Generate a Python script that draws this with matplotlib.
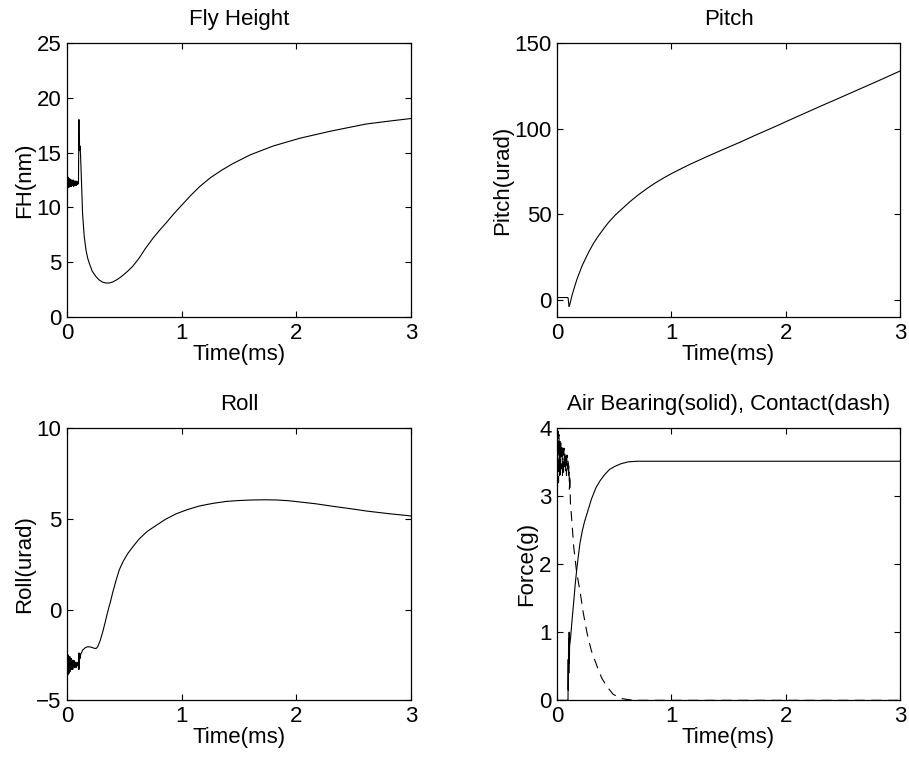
import numpy as np
import matplotlib
matplotlib.use('Agg')
import matplotlib.pyplot as plt

plt.rcParams['font.family'] = ['Liberation Sans', 'DejaVu Sans']
plt.rcParams['font.size'] = 16

# Fly height (nm): noisy start, spike at 0.1 ms, then slow recovery
fh_noise = [12.3, 11.7, 12.8, 11.8, 12.7, 11.8, 12.6, 11.9, 12.6, 11.9, 12.5, 12.0,
            12.5, 11.9, 12.5, 12.0, 12.4, 12.0, 12.5, 11.9, 12.4, 12.1, 12.4, 12.0,
            12.4, 12.1, 12.3, 12.0, 12.4, 12.1, 12.3, 12.1, 12.3, 12.2]
fh_t = [0.100, 0.104, 0.106, 0.108, 0.110, 0.113, 0.118, 0.122, 0.136, 0.15, 0.166, 0.18,
        0.195, 0.22, 0.253, 0.28, 0.31, 0.34, 0.37, 0.40, 0.44, 0.48, 0.53, 0.574,
        0.63, 0.68, 0.75, 0.81, 0.865, 0.93, 1.0, 1.08, 1.157, 1.25, 1.35, 1.448,
        1.6, 1.8, 2.03, 2.3, 2.61, 2.8, 3.0]
fh_v = [12.2, 18.0, 15.4, 16.6, 15.2, 15.6, 14.8, 13.7, 9.4, 7.4, 6.1, 5.4,
        4.9, 4.2, 3.7, 3.4, 3.2, 3.12, 3.12, 3.22, 3.45, 3.75, 4.2, 4.65,
        5.4, 6.2, 7.2, 7.95, 8.6, 9.4, 10.2, 11.1, 11.9, 12.7, 13.4, 14.0,
        14.8, 15.6, 16.3, 16.95, 17.6, 17.85, 18.1]

# Pitch (urad)
pitch_t = [0.0, 0.094, 0.097, 0.105, 0.11, 0.13, 0.15, 0.175, 0.219, 0.277, 0.32, 0.364,
           0.41, 0.452, 0.51, 0.569, 0.64, 0.714, 0.79, 0.86, 0.93, 1.006, 1.08, 1.152,
           1.3, 1.443, 1.6, 1.735, 1.9, 2.026, 2.17, 2.318, 2.46, 2.609, 2.8, 3.0]
pitch_v = [1.5, 1.5, 1.0, -3.7, -3.0, 2.5, 7.0, 12.3, 20.0, 28.0, 33.2, 37.6,
           41.8, 45.4, 49.6, 53.2, 57.5, 61.5, 65.2, 68.3, 71.1, 73.9, 76.4, 78.8,
           83.3, 87.5, 92.0, 96.1, 100.9, 104.7, 109.0, 113.4, 117.5, 121.9, 127.5, 133.5]

# Roll (urad)
roll_noise = [-3.7, -2.6, -3.6, -2.5, -3.5, -2.6, -3.5, -2.6, -3.4, -2.7, -3.3, -2.7,
              -3.3, -2.8, -3.3, -2.8, -3.2, -2.8, -3.2, -2.9, -3.1, -2.9, -3.2, -3.0,
              -3.1, -2.9, -3.1, -3.0, -3.1]
roll_t = [0.100, 0.102, 0.104, 0.106, 0.108, 0.110, 0.113, 0.118, 0.137, 0.16, 0.18, 0.21,
          0.24, 0.255, 0.268, 0.29, 0.312, 0.335, 0.355, 0.38, 0.40, 0.43, 0.457, 0.49,
          0.53, 0.58, 0.632, 0.7, 0.778, 0.86, 0.953, 1.05, 1.156, 1.27, 1.39, 1.5,
          1.62, 1.72, 1.826, 1.93, 2.03, 2.17, 2.32, 2.46, 2.613, 2.8, 3.0]
roll_v = [-3.3, -2.4, -3.3, -2.5, -3.1, -2.4, -2.7, -2.5, -2.23, -2.1, -2.05, -2.07,
          -2.14, -2.14, -2.05, -1.7, -1.23, -0.65, -0.13, 0.45, 0.97, 1.65, 2.2, 2.65,
          3.08, 3.5, 3.9, 4.3, 4.63, 4.97, 5.27, 5.5, 5.7, 5.84, 5.95, 6.0,
          6.03, 6.04, 6.03, 5.99, 5.92, 5.82, 5.68, 5.56, 5.42, 5.28, 5.15]

# Forces (g): air bearing solid, contact dashed
ab_t = [0.0, 0.094, 0.096, 0.098, 0.099, 0.101, 0.103, 0.106, 0.108, 0.11, 0.117, 0.13,
        0.146, 0.16, 0.175, 0.2, 0.22, 0.24, 0.262, 0.3, 0.34, 0.379, 0.42, 0.46,
        0.5, 0.554, 0.62, 0.7, 0.8, 1.0, 1.5, 2.0, 2.5, 3.0]
ab_v = [0.0, 0.0, 0.0, 0.6, 0.15, 0.9, 0.4, 1.0, 0.55, 0.8, 0.89, 1.15,
        1.45, 1.72, 1.96, 2.3, 2.48, 2.62, 2.74, 2.95, 3.12, 3.23, 3.32, 3.39,
        3.43, 3.47, 3.5, 3.51, 3.51, 3.51, 3.51, 3.51, 3.51, 3.51]
ct_noise = [4.0, 3.1, 3.95, 3.2, 3.9, 3.3, 3.8, 3.3, 3.8, 3.4, 3.75, 3.3, 3.7, 3.3,
            3.7, 3.4, 3.65, 3.35, 3.6, 3.3, 3.6, 3.4, 3.55, 3.3]
ct_t = [0.100, 0.105, 0.108, 0.112, 0.117, 0.131, 0.146, 0.17, 0.204, 0.23, 0.262, 0.3,
        0.35, 0.39, 0.437, 0.49, 0.554, 0.62, 0.7, 0.8, 1.0, 1.5, 2.0, 2.5, 3.0]
ct_v = [3.3, 3.45, 3.1, 3.3, 2.9, 2.6, 2.25, 1.9, 1.57, 1.28, 0.99, 0.73,
        0.5, 0.33, 0.2, 0.09, 0.03, 0.01, 0.0, 0.0, 0.0, 0.0, 0.0, 0.0, 0.0]


def style(ax, title, ylabel, ylim, yticks):
    ax.set_title(title, fontsize=16, pad=13)
    ax.set_xlabel('Time(ms)', labelpad=0)
    ax.set_ylabel(ylabel, labelpad=1)
    ax.set_xlim(0, 3)
    ax.set_ylim(*ylim)
    ax.set_xticks([0, 1, 2, 3])
    ax.set_yticks(yticks)
    ax.tick_params(direction='in', top=True, right=True, length=4, width=0.8,
                   labelsize=16, pad=4)
    for s in ax.spines.values():
        s.set_linewidth(0.9)


fig = plt.figure(figsize=(9.09, 7.59), dpi=100)
ax1 = fig.add_axes([0.0737, 0.582, 0.3784, 0.3617])
ax2 = fig.add_axes([0.6128, 0.582, 0.3773, 0.3617])
ax3 = fig.add_axes([0.0737, 0.0773, 0.3784, 0.359])
ax4 = fig.add_axes([0.6128, 0.0773, 0.3773, 0.359])

lw = 0.8
dash = (0, (9, 6))
ax1.plot(np.linspace(0, 0.1, len(fh_noise)), fh_noise, color='k', lw=lw)
ax1.plot(fh_t, fh_v, color='k', lw=lw)
style(ax1, 'Fly Height', 'FH(nm)', (0, 25), [0, 5, 10, 15, 20, 25])

ax2.plot(pitch_t, pitch_v, color='k', lw=lw)
style(ax2, 'Pitch', 'Pitch(urad)', (-10, 150), [0, 50, 100, 150])

ax3.plot(np.linspace(0, 0.1, len(roll_noise)), roll_noise, color='k', lw=lw)
ax3.plot(roll_t, roll_v, color='k', lw=lw)
style(ax3, 'Roll', 'Roll(urad)', (-5, 10), [-5, 0, 5, 10])

ax4.plot(ab_t, ab_v, color='k', lw=lw)
ax4.plot(np.linspace(0, 0.1, len(ct_noise)), ct_noise, color='k', lw=lw, ls=dash)
ax4.plot(ct_t, ct_v, color='k', lw=lw, ls=dash)
style(ax4, 'Air Bearing(solid), Contact(dash)', 'Force(g)', (0, 4), [0, 1, 2, 3, 4])

fig.savefig('out.png', dpi=100)
